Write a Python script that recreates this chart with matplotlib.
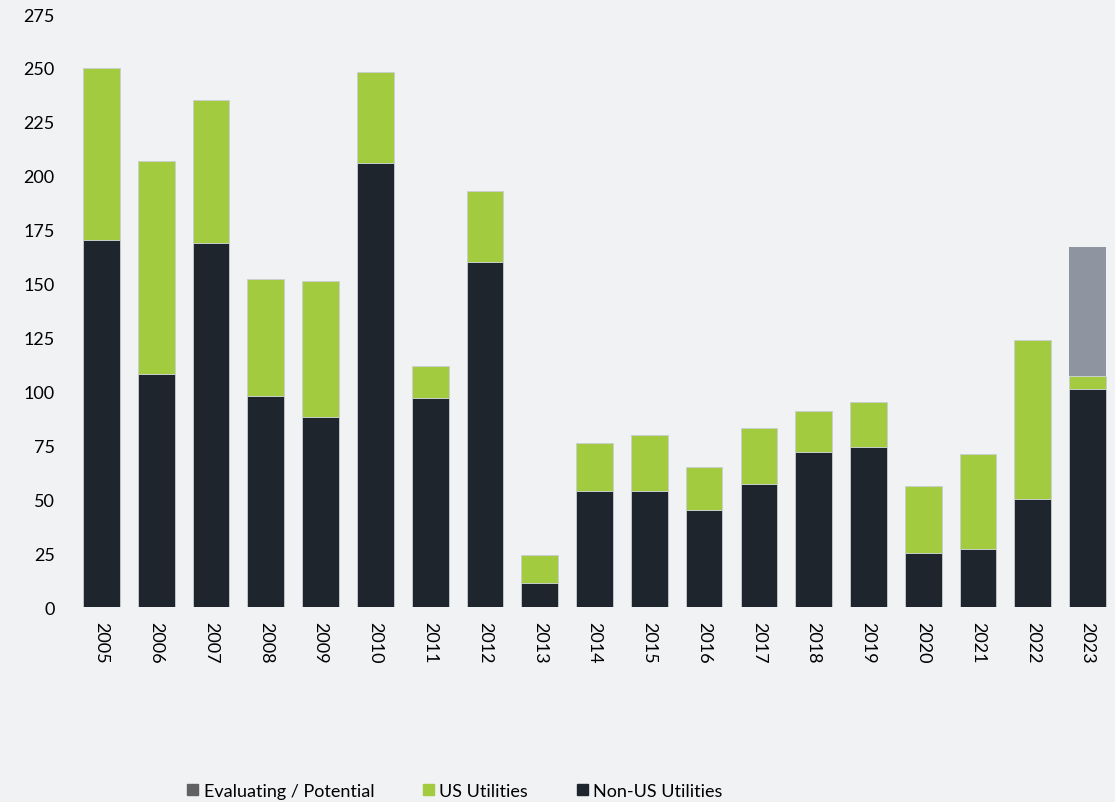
import matplotlib.pyplot as plt
import numpy as np
from matplotlib.patches import Patch

years = [str(y) for y in range(2005, 2024)]
non_us = [170, 108, 169, 98, 88, 206, 97, 160, 11, 54, 54, 45, 57, 72, 74, 25, 27, 50, 101]
us = [80, 99, 66, 54, 63, 42, 15, 33, 13, 22, 26, 20, 26, 19, 21, 31, 44, 74, 6]
evaluating = [0, 0, 0, 0, 0, 0, 0, 0, 0, 0, 0, 0, 0, 0, 0, 0, 0, 0, 60]

BG = "#f1f2f4"
DARK = "#1f252d"
GREEN = "#a3cb3f"
GREY = "#8e95a0"

plt.rcParams["font.family"] = ["Lato", "DejaVu Sans"]

fig = plt.figure(figsize=(11.15, 8.03), dpi=100, facecolor=BG)
ax = fig.add_axes([0.0664, 0.2428, 0.9336, 0.7385], facecolor=BG)

x = np.arange(len(years))
w = 0.67
non_us = np.array(non_us)
us = np.array(us)
evaluating = np.array(evaluating)
edge = dict(edgecolor="#c9ced4", linewidth=0.6)
ax.bar(x, non_us, w, color=DARK, **edge, zorder=3)
ax.bar(x, us, w, bottom=non_us, color=GREEN, **edge, zorder=3)
ax.bar(x, evaluating, w, bottom=non_us + us, color=GREY, linewidth=0, zorder=3)

ax.set_xlim(-0.5, len(years) - 0.5)
ax.set_ylim(0, 275)
ax.set_yticks(np.arange(0, 276, 25))
ax.set_xticks(x)
ax.set_xticklabels(years, rotation=270, fontsize=13)
ax.tick_params(axis="y", length=0, pad=14, labelsize=13)
ax.tick_params(axis="x", length=0, pad=10)
for s in ax.spines.values():
    s.set_visible(False)

handles = [
    Patch(color="#616161", label="Evaluating / Potential"),
    Patch(color=GREEN, label="US Utilities"),
    Patch(color=DARK, label="Non-US Utilities"),
]
fig.legend(handles=handles, loc="center", bbox_to_anchor=(0.408, 0.014), ncol=3,
           frameon=False, fontsize=13, handlelength=0.6, handleheight=0.6,
           handletextpad=0.3, columnspacing=2.7)

fig.savefig("out.png", dpi=100, facecolor=BG)
